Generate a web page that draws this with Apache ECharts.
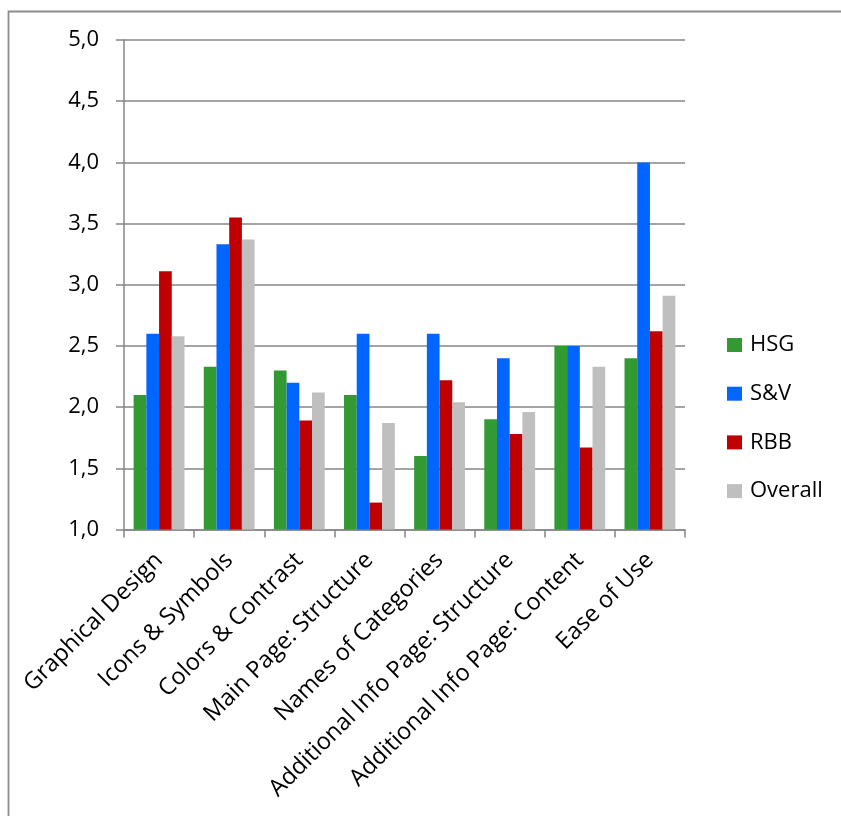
<!DOCTYPE html>
<html>
<head>
<meta charset="utf-8">
<script src="https://cdn.jsdelivr.net/npm/echarts@6/dist/echarts.min.js"></script>
<style>
  html, body { margin: 0; padding: 0; background: #fff; }
  #chart { width: 841px; height: 816px; }
</style>
</head>
<body>
<div id="chart"></div>
<script>
// Survey ratings per criterion
const categories = [
  'Graphical Design',
  'Icons & Symbols',
  'Colors & Contrast',
  'Main Page: Structure',
  'Names of Categories',
  'Additional Info Page: Structure',
  'Additional Info Page: Content',
  'Ease of Use'
];
const hsg     = [2.10, 2.33, 2.30, 2.10, 1.60, 1.90, 2.50, 2.40];
const sv      = [2.60, 3.33, 2.20, 2.60, 2.60, 2.40, 2.50, 4.00];
const rbb     = [3.11, 3.55, 1.89, 1.22, 2.22, 1.78, 1.67, 2.62];
const overall = [2.58, 3.37, 2.12, 1.87, 2.04, 1.96, 2.33, 2.91];
const seriesNames = ['HSG', 'S&V', 'RBB', 'Overall'];
const yTicks = { min: 1, max: 5, step: 0.5 };

const FONT = 'Open Sans';
const FONT_SIZE = 22;
const CAT_FONT_SIZE = 23.5;
const AXIS_GRAY = '#868686';
const colors = ['#339933', '#0066FF', '#C00000', '#BFBFBF'];

const chart = echarts.init(document.getElementById('chart'), null, { renderer: 'canvas' });

const makeBar = (name, data, color) => ({
  name: name,
  type: 'bar',
  data: data,
  barGap: '0%',
  barCategoryGap: '27.5%',
  itemStyle: { color: color },
  emphasis: { disabled: true }
});

chart.setOption({
  animation: false,
  backgroundColor: '#ffffff',
  textStyle: { fontFamily: FONT },
  color: colors,
  graphic: [{
    type: 'rect',
    shape: { x: 8.5, y: 11.5, width: 1000, height: 1000 },
    style: { fill: 'none', stroke: '#8c8c8c', lineWidth: 1.8 },
    silent: true
  }],
  grid: { left: 124, top: 40, width: 561, height: 489.5, containLabel: false },
  legend: {
    orient: 'vertical',
    left: 727,
    top: 334,
    padding: 0,
    itemWidth: 15,
    itemHeight: 14,
    itemGap: 26.7,
    icon: 'rect',
    selectedMode: false,
    textStyle: { fontFamily: FONT, fontSize: FONT_SIZE, color: '#000', lineHeight: 22, padding: [0, 0, 0, 3] },
    data: seriesNames
  },
  xAxis: {
    type: 'category',
    data: categories,
    axisLine: { lineStyle: { color: AXIS_GRAY, width: 1.5 } },
    axisTick: { show: true, alignWithLabel: false, length: 8, lineStyle: { color: AXIS_GRAY, width: 1.5 } },
    axisLabel: {
      interval: 0,
      rotate: 45,
      margin: 27,
      fontFamily: FONT,
      fontSize: CAT_FONT_SIZE,
      color: '#000'
    }
  },
  yAxis: {
    type: 'value',
    min: yTicks.min,
    max: yTicks.max,
    interval: yTicks.step,
    axisLine: { show: true, lineStyle: { color: AXIS_GRAY, width: 1.5 } },
    axisTick: { show: true, inside: false, length: 8, lineStyle: { color: AXIS_GRAY, width: 1.5 } },
    splitLine: { show: true, lineStyle: { color: AXIS_GRAY, width: 1.5 } },
    axisLabel: {
      margin: 25,
      fontFamily: FONT,
      fontSize: FONT_SIZE,
      color: '#000',
      formatter: v => v.toFixed(1).replace('.', ',')
    }
  },
  series: [
    makeBar(seriesNames[0], hsg, colors[0]),
    makeBar(seriesNames[1], sv, colors[1]),
    makeBar(seriesNames[2], rbb, colors[2]),
    makeBar(seriesNames[3], overall, colors[3])
  ]
});
</script>
</body>
</html>
